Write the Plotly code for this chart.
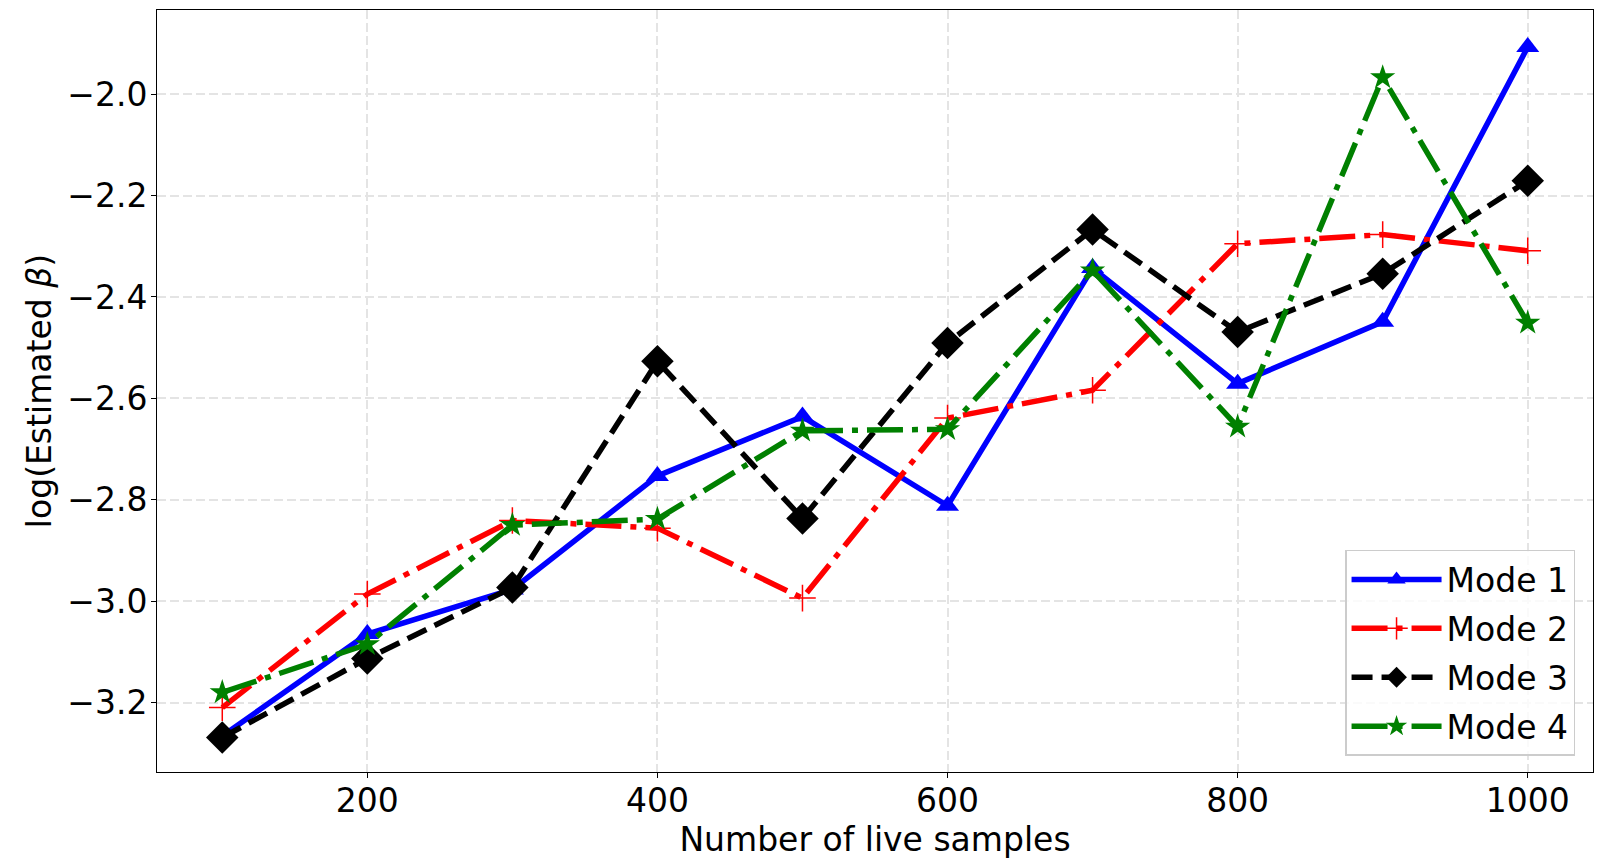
import plotly.graph_objects as go

# number of live samples
samples = [100, 200, 300, 400, 500, 600, 700, 800, 900, 1000]

# log(estimated beta) per mode
mode1 = [-3.266, -3.065, -2.977, -2.753, -2.636, -2.812, -2.343, -2.571, -2.449, -1.907]
mode2 = [-3.210, -2.986, -2.841, -2.856, -2.994, -2.639, -2.584, -2.295, -2.277, -2.309]
mode3 = [-3.269, -3.113, -2.973, -2.527, -2.837, -2.491, -2.267, -2.469, -2.354, -2.171]
mode4 = [-3.180, -3.085, -2.850, -2.838, -2.664, -2.661, -2.348, -2.656, -1.967, -2.451]

FONT = "DejaVu Sans"
FS = 33
DASHDOT = "36px,9px,6px,9px"

fig = go.Figure()

fig.add_trace(go.Scatter(
    x=samples, y=mode1, name="Mode 1", mode="lines+markers", legendgroup="m1",
    line=dict(color="blue", width=5.5),
    marker=dict(symbol="triangle-up", size=20, color="blue"),
))
fig.add_trace(go.Scatter(
    x=samples, y=mode2, name="Mode 2", mode="lines+markers", legendgroup="m2",
    line=dict(color="red", width=5.5, dash=DASHDOT),
    marker=dict(symbol="cross-thin", size=19, color="red",
                line=dict(color="red", width=1.5)),
))
fig.add_trace(go.Scatter(
    x=samples, y=mode3, name="Mode 3", mode="lines+markers", legendgroup="m3",
    line=dict(color="black", width=5.5, dash="21px,9px"),
    marker=dict(symbol="diamond", size=25, color="black"),
))
fig.add_trace(go.Scatter(
    x=samples, y=mode4, name="Mode 4", mode="lines+markers", legendgroup="m4",
    line=dict(color="green", width=5.5, dash=DASHDOT),
    marker=dict(symbol="star", size=19, color="green"),
))

axis_common = dict(
    showline=True, linecolor="black", linewidth=1, mirror=True,
    ticks="outside", ticklen=5, tickcolor="black", tickwidth=1,
    showgrid=True, gridcolor="#e4e4e4", gridwidth=2, griddash="9px,4px",
    zeroline=False,
    tickfont=dict(family=FONT, size=FS, color="black"),
)

fig.update_xaxes(
    range=[55, 1045], tickvals=[200, 400, 600, 800, 1000],
    ticklabelstandoff=-6,
    title=dict(text="Number of live samples",
               font=dict(family=FONT, size=FS, color="black"), standoff=0),
    **axis_common,
)
fig.update_yaxes(
    range=[-3.337, -1.834], tickvals=[-3.2, -3.0, -2.8, -2.6, -2.4, -2.2, -2.0],
    tickformat=".1f", ticklabelstandoff=-3,
    title=dict(text="log(Estimated <i>β</i>)",
               font=dict(family=FONT, size=FS, color="black"), standoff=5),
    **axis_common,
)

fig.update_layout(
    width=1600, height=856,
    margin=dict(l=149, r=15, t=2, b=92),
    paper_bgcolor="white", plot_bgcolor="white",
    font=dict(family=FONT, size=FS, color="black"),
    separators=".−",
    legend=dict(
        x=0.9875, y=0.021, xanchor="right", yanchor="bottom",
        bgcolor="rgba(255,255,255,0.8)", bordercolor="#cccccc", borderwidth=1.5,
        font=dict(family=FONT, size=FS, color="black"),
        tracegroupgap=3, itemwidth=90,
    ),
    showlegend=True,
)

fig.write_html("out.html")
